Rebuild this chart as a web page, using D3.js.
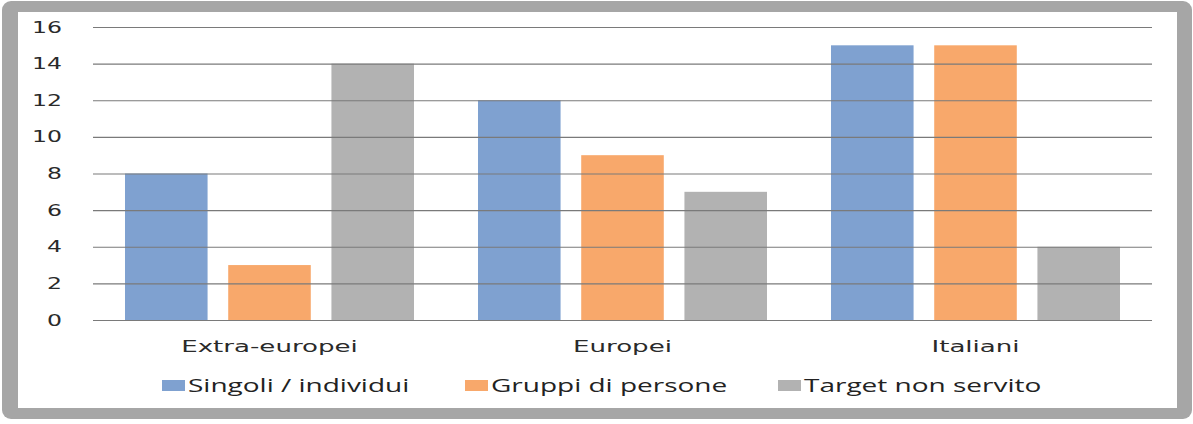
<!DOCTYPE html>
<html><head><meta charset="utf-8">
<script src="https://cdn.jsdelivr.net/npm/d3@7"></script>
<style>html,body{margin:0;padding:0;background:#fff;}svg{display:block;}</style>
</head><body>
<svg id="chart" width="1193" height="424"></svg>
<script>
const categories = ["Extra-europei", "Europei", "Italiani"];
const seriesNames = ["Singoli / individui", "Gruppi di persone", "Target non servito"];
const singoli = [8, 12, 15];
const gruppi = [3, 9, 15];
const target = [14, 7, 4];
const yTicks = [0, 2, 4, 6, 8, 10, 12, 14, 16];
const colors = ["#7fa1d0", "#f8a86b", "#b2b2b2"];

const seriesValues = [singoli, gruppi, target];
const data = categories.map((c, i) => ({cat: c, vals: seriesNames.map((s, j) => ({s, v: seriesValues[j][i]}))}));

const svg = d3.select("#chart");
const SX = 1.52; // horizontal text stretch of the original

// frame
svg.append("rect").attr("x", 2).attr("y", 1).attr("width", 1190).attr("height", 418)
  .attr("rx", 9).attr("fill", "#a6a6a6");
svg.append("rect").attr("x", 18).attr("y", 12).attr("width", 1159).attr("height", 396)
  .attr("fill", "#ffffff");

const pLeft = 93, pRight = 1152, pTop = 27, pBottom = 320;
const x0 = d3.scaleBand().domain(categories).range([pLeft, pRight]).padding(0);
const x1 = d3.scaleBand().domain(seriesNames).range([0, x0.bandwidth()]).paddingInner(0.2).paddingOuter(0.31);
const y = d3.scaleLinear().domain([0, 16]).range([pBottom, pTop]);
const color = d3.scaleOrdinal().domain(seriesNames).range(colors);

// bars
const g = svg.append("g");
g.selectAll("g.grp").data(data).join("g").attr("class", "grp")
  .attr("transform", d => `translate(${x0(d.cat)},0)`)
  .selectAll("rect").data(d => d.vals).join("rect")
  .attr("x", d => x1(d.s)).attr("width", x1.bandwidth())
  .attr("y", d => y(d.v)).attr("height", d => y(0) - y(d.v))
  .attr("fill", d => color(d.s));

// gridlines (on top of bars)
const yAxis = d3.axisLeft(y).tickValues(yTicks).tickSize(-(pRight - pLeft)).tickFormat("");
const ga = svg.append("g").attr("transform", `translate(${pLeft},0)`).call(yAxis);
ga.select(".domain").remove();
ga.selectAll(".tick line").attr("stroke", "#7a7a7a").attr("stroke-width", 1.2);

// y tick labels
svg.append("g").selectAll("text").data(yTicks).join("text")
  .attr("transform", d => `translate(62,${y(d)}) scale(${SX},1)`)
  .attr("dy", "0.36em").attr("text-anchor", "end")
  .attr("font-family", "DejaVu Sans").attr("font-size", 15.5).attr("fill", "#2a2a2a")
  .text(d => d);

// category labels
svg.append("g").selectAll("text").data(categories).join("text")
  .attr("transform", d => `translate(${x0(d) + x0.bandwidth() / 2},352) scale(1.58,1)`)
  .attr("text-anchor", "middle")
  .attr("font-family", "DejaVu Sans").attr("font-size", 16.5).attr("fill", "#2a2a2a")
  .text(d => d);

// legend
const legX = [162, 465, 778];
const lg = svg.append("g").selectAll("g").data(seriesNames).join("g")
  .attr("transform", (d, i) => `translate(${legX[i]},380)`);
lg.append("rect").attr("width", 23).attr("height", 11).attr("fill", d => color(d));
lg.append("text").attr("transform", `translate(26,11.5) scale(1.6,1)`)
  .attr("font-family", "Open Sans").attr("font-size", 17.5).attr("fill", "#222")
  .text(d => d);
</script>
</body></html>
